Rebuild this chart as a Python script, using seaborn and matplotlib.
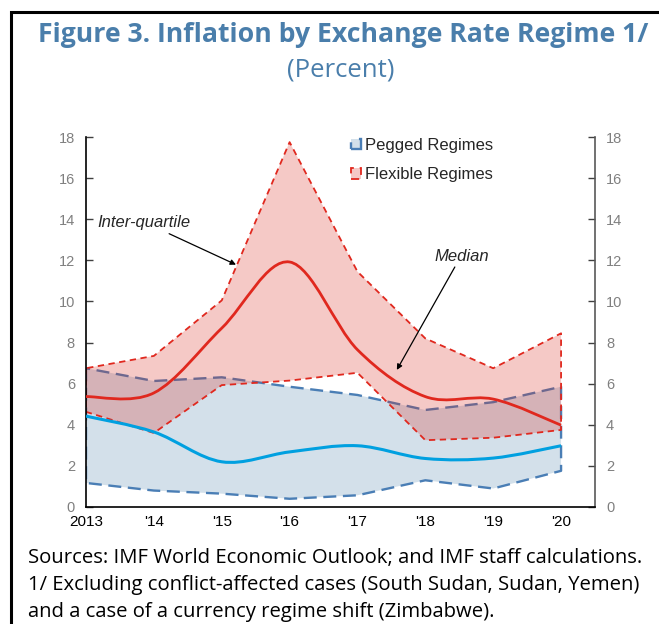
import numpy as np
import matplotlib.pyplot as plt
import seaborn as sns
from matplotlib.path import Path
from matplotlib.patches import PathPatch, Rectangle

# data
years = [2013, 2014, 2015, 2016, 2017, 2018, 2019, 2020]
year_labels = ['2013', "'14", "'15", "'16", "'17", "'18", "'19", "'20"]

peg_upper = [6.75, 6.13, 6.31, 5.85, 5.45, 4.72, 5.1, 5.85]
peg_lower = [1.17, 0.8, 0.65, 0.4, 0.57, 1.3, 0.9, 1.76]
peg_median = [4.42, 3.65, 2.2, 2.68, 2.98, 2.36, 2.38, 2.98]

flex_upper = [6.75, 7.35, 10.05, 17.75, 11.45, 8.2, 6.75, 8.45]
flex_lower = [4.63, 3.6, 5.93, 6.15, 6.53, 3.25, 3.37, 3.75]
flex_median = [5.37, 5.55, 8.7, 11.92, 7.65, 5.37, 5.25, 3.98]

title_col = '#4A7EAB'
peg_edge = '#4A7EB5'
peg_fill = '#D3E0EA'
peg_line = '#00A0E0'
flex_col = '#E0281E'


def smooth_path(x, y):
    # excel-like smoothed line: bezier through the points
    pts = np.column_stack([x, y]).astype(float)
    n = len(pts)
    verts = [pts[0]]
    codes = [Path.MOVETO]
    for i in range(n - 1):
        p0 = pts[i - 1] if i > 0 else pts[i]
        p1 = pts[i]
        p2 = pts[i + 1]
        p3 = pts[i + 2] if i + 2 < n else pts[i + 1]
        verts += [p1 + (p2 - p0) / 6, p2 - (p3 - p1) / 6, p2]
        codes += [Path.CURVE4] * 3
    return Path(verts, codes)


sns.set_style('white')
plt.rcParams['font.family'] = ['Liberation Sans', 'DejaVu Sans']

fig = plt.figure(figsize=(6.59, 6.24), dpi=100)
ax = fig.add_axes([86 / 659, 1 - 507 / 624, (595 - 86) / 659, 370 / 624])

ax.fill_between(years, peg_lower, peg_upper, facecolor=peg_fill,
                edgecolor=peg_edge, linestyle=(0, (5.5, 2.8)), linewidth=1.7,
                label='Pegged Regimes', zorder=1)
ax.fill_between(years, flex_lower, flex_upper, facecolor=(0.86, 0.16, 0.12, 0.25),
                edgecolor=flex_col, linestyle=(0, (3.5, 2.5)), linewidth=1.3,
                label='Flexible Regimes', zorder=2)

ax.add_patch(PathPatch(smooth_path(years, peg_median), fill=False,
                       edgecolor=peg_line, linewidth=2.2, zorder=3))
ax.add_patch(PathPatch(smooth_path(years, flex_median), fill=False,
                       edgecolor=flex_col, linewidth=2.0, zorder=4))

ax.set_xlim(2013, 2020.5)
ax.set_ylim(0, 18)
ax.set_yticks(np.arange(0, 19, 2))
ax.set_xticks(years)
ax.set_xticklabels(year_labels)

sns.despine(ax=ax, top=True, right=False)
for s in ['left', 'bottom']:
    ax.spines[s].set_color('black')
    ax.spines[s].set_linewidth(1.2)
ax.spines['right'].set_color('#595959')
ax.spines['right'].set_linewidth(1.2)

ax.tick_params(axis='y', direction='in', length=5, width=1, left=True, right=True,
               labelleft=True, labelright=True, labelsize=10.5,
               labelcolor='#808080', color='#404040', pad=8)
ax.tick_params(axis='x', length=0, labelsize=11, labelcolor='black', pad=6)

ax.legend(loc='upper left', bbox_to_anchor=(0.505, 1.02), frameon=False,
          handlelength=0.6, handleheight=0.6, handletextpad=0.2,
          labelspacing=0.85, fontsize=12, borderpad=0)

ax.annotate('Inter-quartile', xy=(2015.21, 11.79), xytext=(2013.16, 13.82),
            fontsize=12, style='italic', va='center', ha='left',
            arrowprops=dict(arrowstyle='-|>', color='black', lw=0.9,
                            mutation_scale=8, shrinkA=0, shrinkB=0,
                            relpos=(0.7, 0.0)))
ax.annotate('Median', xy=(2017.58, 6.67), xytext=(2018.14, 12.2),
            fontsize=12, style='italic', va='center', ha='left',
            arrowprops=dict(arrowstyle='-|>', color='black', lw=0.9,
                            mutation_scale=8, shrinkA=0, shrinkB=0,
                            relpos=(0.4, 0.0)))

fig.text(343 / 659, 1 - 35 / 624, 'Figure 3. Inflation by Exchange Rate Regime 1/',
         ha='center', va='center', fontsize=19.2, fontweight='bold',
         color=title_col, family='Open Sans')
fig.text(341 / 659, 1 - 70 / 624, '(Percent)', ha='center', va='center',
         fontsize=18.5, color=title_col, family='Open Sans')

notes = ['Sources: IMF World Economic Outlook; and IMF staff calculations.',
         '1/ Excluding conflict-affected cases (South Sudan, Sudan, Yemen)',
         'and a case of a currency regime shift (Zimbabwe).']
for i, line in enumerate(notes):
    fig.text(28 / 659, 1 - (558 + 27 * i) / 624, line, ha='left', va='center',
             fontsize=14.6, color='black', family='Open Sans')

fig.add_artist(Rectangle((11 / 659, -0.2), 1.0, 1.2 - 12 / 624,
                         transform=fig.transFigure, fill=False,
                         edgecolor='black', linewidth=2.2))

fig.savefig('out.png', dpi=100)
